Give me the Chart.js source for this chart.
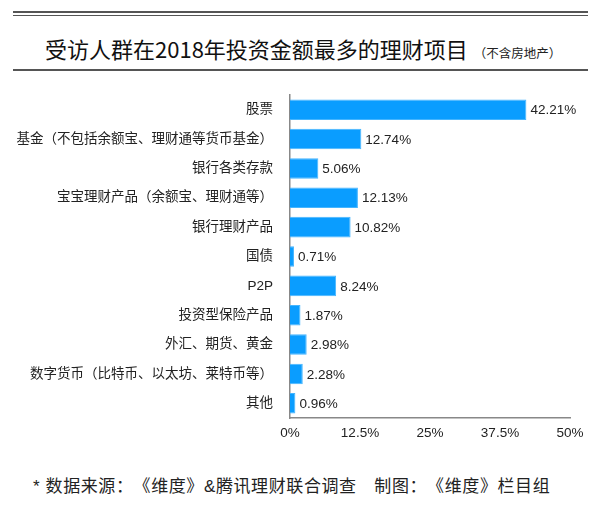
<!DOCTYPE html>
<html>
<head>
<meta charset="utf-8">
<script src="https://cdn.jsdelivr.net/npm/chart.js@4/dist/chart.umd.min.js"></script>
<style>
  html, body { margin:0; padding:0; background:#fff; width:600px; height:518px; overflow:hidden; text-spacing-trim: space-all; }
  .line { position:absolute; left:13px; width:575px; background:#555; }
  #title { position:absolute; left:45px; top:34px; white-space:nowrap; font-family:"Noto Sans CJK SC", serif; font-size:22px; color:#111; line-height:28px; text-spacing-trim: space-all; }
  #title span { font-size:12.5px; margin-left:6px; color:#222; }
  #chartWrap { position:absolute; left:0; top:90px; width:600px; height:360px; }
  #footer { position:absolute; left:33px; top:475px; white-space:nowrap; font-family:"Liberation Sans","Noto Sans CJK SC",sans-serif; font-size:17px; letter-spacing:0.6px; color:#222; line-height:24px; text-spacing-trim: space-all; }
</style>
</head>
<body>
<div class="line" style="top:11px;height:2px;"></div>
<div class="line" style="top:15px;height:1px;"></div>
<div id="title">受访人群在2018年投资金额最多的理财项目<span>（不含房地产）</span></div>
<div class="line" style="top:69px;height:2px;"></div>
<div id="chartWrap"><canvas id="c"></canvas></div>
<div id="footer">* 数据来源：《维度》&amp;腾讯理财联合调查　制图：《维度》栏目组</div>
<script>
const categories = ["股票","基金（不包括余额宝、理财通等货币基金）","银行各类存款","宝宝理财产品（余额宝、理财通等）","银行理财产品","国债","P2P","投资型保险产品","外汇、期货、黄金","数字货币（比特币、以太坊、莱特币等）","其他"];
const values = [42.21,12.74,5.06,12.13,10.82,0.71,8.24,1.87,2.98,2.28,0.96];
const xTicks = [0,12.5,25,37.5,50];

const FONT = 'Liberation Sans, "Noto Sans CJK SC", sans-serif';

const valueLabels = {
  id:'valueLabels',
  afterDatasetsDraw(chart){
    const ctx = chart.ctx;
    const meta = chart.getDatasetMeta(0);
    ctx.save();
    ctx.font = '13.5px ' + FONT;
    ctx.fillStyle = '#222';
    ctx.textAlign = 'left';
    ctx.textBaseline = 'middle';
    meta.data.forEach((bar,i)=>{
      ctx.fillText(values[i].toFixed(2)+'%', bar.x+4, bar.y+1);
    });
    ctx.restore();
  }
};

new Chart(document.getElementById('c'), {
  type:'bar',
  data:{ labels:categories, datasets:[{ data:values, backgroundColor:'#0a9dff', borderColor:'#45b5ff', borderWidth:1, barPercentage:0.7, categoryPercentage:1 }]},
  options:{
    indexAxis:'y',
    responsive:true, maintainAspectRatio:false, animation:false,
    layout:{ padding:{ top:5, right:30, left:0, bottom:0 } },
    plugins:{ legend:{display:false}, tooltip:{enabled:false} },
    scales:{
      x:{
        min:0, max:50,
        afterBuildTicks(scale){ scale.ticks = xTicks.map(v=>({value:v})); },
        afterFit(scale){ scale.height = 32; scale.paddingLeft = 0; scale.paddingRight = 0; },
        grid:{ display:false, drawTicks:false },
        border:{ display:true, color:'#888', width:1.5 },
        ticks:{ padding:7, color:'#222', font:{ family:FONT, size:13.5 }, maxRotation:0, callback:(v)=>v+'%' }
      },
      y:{
        afterFit(scale){ scale.width = 290; scale.paddingTop = 0; scale.paddingBottom = 0; },
        grid:{ display:false, drawTicks:false },
        border:{ display:true, color:'#888', width:1.5 },
        ticks:{ padding:17, color:'#222', font:{ family:FONT, size:13.5 }, autoSkip:false }
      }
    }
  },
  plugins:[valueLabels]
});
</script>
</body>
</html>
